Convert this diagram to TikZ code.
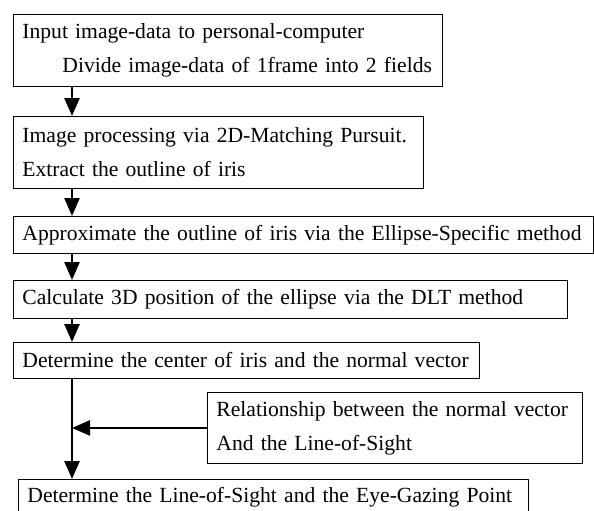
\documentclass[tikz,border=0pt]{standalone}
\usepackage{fontspec}
\setmainfont{Liberation Serif}
\usetikzlibrary{arrows.meta}
\begin{document}
\begin{tikzpicture}[x=1pt,y=-1pt,
 stage/.style={draw,line width=.9pt,anchor=north west,inner xsep=9pt,inner ysep=0pt,
  align=left,text width=#1,font=\fontsize{21.6}{34}\selectfont},
 flow/.style={line width=2.6pt,-{Triangle[length=18pt,width=15pt]}}]
\useasboundingbox (0,0) rectangle (594,511);
\coordinate (spine) at (72,0);
\node[stage=411pt,minimum height=72pt] (input) at (13,14)
 {Input image-data to personal-computer\\\hspace*{40pt}Divide image-data of 1frame into 2 fields};
\node[stage=392pt,minimum height=72pt] (matching) at (13,116)
 {Image processing via 2D-Matching Pursuit.\\Extract the outline of iris};
\node[stage=562pt,minimum height=37pt] (ellipse) at (13,216)
 {Approximate the outline of iris via the Ellipse-Specific method};
\node[stage=536pt,minimum height=38pt] (position) at (13,280)
 {Calculate 3D position of the ellipse via the DLT method};
\node[stage=448pt,minimum height=36pt] (center) at (13,342)
 {Determine the center of iris and the normal vector};
\node[stage=357pt,minimum height=71pt] (relation) at (207,392)
 {Relationship between the normal vector\\And the Line-of-Sight};
\node[stage=492pt,minimum height=36pt] (sight) at (18,479)
 {Determine the Line-of-Sight and the Eye-Gazing Point};
% main flow down the left
\draw[flow] (input.south -| spine) -- (matching.north -| spine);
\draw[flow] (matching.south -| spine) -- (ellipse.north -| spine);
\draw[flow] (ellipse.south -| spine) -- (position.north -| spine);
\draw[flow] (position.south -| spine) -- (center.north -| spine);
\draw[flow] (center.south -| spine) -- (sight.north -| spine);
\draw[flow] (relation.west) -- (relation.west -| spine);
\end{tikzpicture}
\end{document}
